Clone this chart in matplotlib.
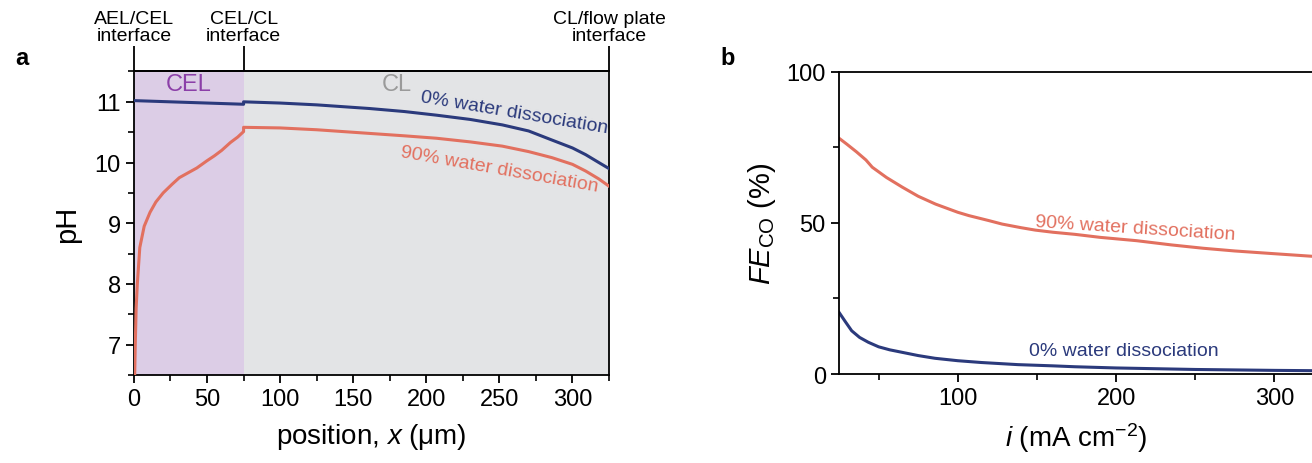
import matplotlib
matplotlib.use("Agg")
import matplotlib.pyplot as plt
from matplotlib.ticker import MultipleLocator

plt.rcParams.update({
    "font.family": "Liberation Sans",
    "mathtext.fontset": "custom",
    "mathtext.rm": "Liberation Sans",
    "mathtext.it": "Liberation Sans:italic",
    "font.size": 17,
    "axes.linewidth": 1.3,
    "xtick.direction": "out",
    "ytick.direction": "out",
    "xtick.major.size": 6,
    "ytick.major.size": 6,
    "xtick.minor.size": 4,
    "ytick.minor.size": 4,
    "xtick.major.width": 1.3,
    "ytick.major.width": 1.3,
    "xtick.minor.width": 1.2,
    "ytick.minor.width": 1.2,
    "xtick.labelsize": 17,
    "ytick.labelsize": 17,
})

BLUE = "#2b3a7c"
RED = "#e2705f"

# --- panel a: pH profile across CEL and CL (x in um) ---
pos_0 = [0, 75, 75, 100, 125, 161, 185, 207, 230, 252, 270, 286, 300, 309, 318, 325]
ph_0 = [11.02, 10.96, 11.0, 10.98, 10.95, 10.89, 10.84, 10.78, 10.71, 10.62,
        10.52, 10.37, 10.24, 10.13, 10.0, 9.90]

pos_90 = [0.5, 0.9, 1.5, 2.3, 4, 7, 11, 15, 20, 26, 31, 37, 43, 50, 55, 60, 66, 71, 75,
          75, 100, 125, 161, 185, 207, 230, 252, 270, 286, 300, 309, 318, 325]
ph_90 = [6.5, 7.0, 7.6, 8.0, 8.6, 8.95, 9.18, 9.35, 9.5, 9.64, 9.75, 9.83, 9.91, 10.03,
         10.11, 10.2, 10.33, 10.42, 10.51,
         10.58, 10.57, 10.54, 10.48, 10.44, 10.40, 10.34, 10.27, 10.18, 10.08, 9.97,
         9.86, 9.73, 9.61]

CEL_END = 75
CL_END = 325
interface_pos = [0, 75, 325]
interface_labels = ["AEL/CEL\ninterface", "CEL/CL\ninterface", "CL/flow plate\ninterface"]

# --- panel b: FE_CO vs current density ---
cur_90 = [25, 30, 36, 42, 46, 55, 65, 75, 86, 100, 107, 120, 128, 140, 149, 160, 174,
          190, 213, 235, 255, 275, 297, 325]
fe_90 = [78.0, 76.0, 73.5, 70.8, 68.4, 65.0, 61.8, 58.8, 56.2, 53.5, 52.4, 50.7, 49.6,
         48.4, 47.6, 46.9, 46.2, 45.2, 44.1, 42.7, 41.6, 40.7, 39.9, 38.9]

cur_0 = [25, 29, 33, 38, 43.5, 50, 57, 64.6, 75, 85.6, 100, 115, 138, 160, 174, 200,
         250, 300, 325]
fe_0 = [20.4, 17.3, 14.3, 12.1, 10.5, 9.0, 8.0, 7.2, 6.1, 5.2, 4.4, 3.8, 3.1, 2.7, 2.4,
        2.0, 1.5, 1.2, 1.1]

fig = plt.figure(figsize=(13.12, 4.64), dpi=100)
ax_a = fig.add_axes([0.1021, 0.1897, 0.3621, 0.6541])
ax_b = fig.add_axes([0.6395, 0.1918, 0.3620, 0.6515])

# ---- panel a ----
ax_a.axvspan(0, CEL_END, color="#dccde6", lw=0, zorder=0)
ax_a.axvspan(CEL_END, CL_END, color="#e3e4e6", lw=0, zorder=0)
ax_a.plot(pos_0, ph_0, color=BLUE, lw=2.2, zorder=3)
ax_a.plot(pos_90, ph_90, color=RED, lw=2.2, zorder=3)
ax_a.set_xlim(0, 325)
ax_a.set_ylim(6.5, 11.5)
ax_a.xaxis.set_major_locator(MultipleLocator(50))
ax_a.xaxis.set_minor_locator(MultipleLocator(25))
ax_a.yaxis.set_major_locator(MultipleLocator(1))
ax_a.yaxis.set_minor_locator(MultipleLocator(0.5))
ax_a.set_xlabel(r"position, $\mathit{x}$ ($\mathrm{\mu}$m)", fontsize=20, labelpad=8)
ax_a.set_ylabel("pH", fontsize=21, labelpad=10)

ax_a.text(37.5, 11.29, "CEL", color="#8b3fa8", fontsize=17, ha="center", va="center")
ax_a.text(180, 11.29, "CL", color="#9a9a9a", fontsize=17, ha="center", va="center")
ax_a.text(260, 10.83, "0% water dissociation", color=BLUE, fontsize=14,
          ha="center", va="center", rotation=-9.5, rotation_mode="anchor")
ax_a.text(250, 9.89, "90% water dissociation", color=RED, fontsize=14,
          ha="center", va="center", rotation=-10, rotation_mode="anchor")

top = ax_a.secondary_xaxis("top")
top.set_xticks(interface_pos)
top.set_xticklabels(interface_labels, fontsize=14, linespacing=0.95)
top.tick_params(axis="x", length=18, width=1.3, pad=2)
top.xaxis.set_minor_locator(plt.NullLocator())

# ---- panel b ----
ax_b.plot(cur_90, fe_90, color=RED, lw=2.2)
ax_b.plot(cur_0, fe_0, color=BLUE, lw=2.2)
ax_b.set_xlim(25, 325)
ax_b.set_ylim(0, 100)
ax_b.set_xticks([100, 200, 300])
ax_b.set_xticks([50, 150, 250], minor=True)
ax_b.set_yticks([0, 50, 100])
ax_b.set_yticks([25, 75], minor=True)
ax_b.spines["right"].set_visible(False)
ax_b.set_xlabel(r"$\mathit{i}$ (mA cm$^{-2}$)", fontsize=20, labelpad=8)
ax_b.set_ylabel(r"$\mathit{FE}_{\mathrm{CO}}$ (%)", fontsize=21, labelpad=6)
ax_b.text(212, 48.3, "90% water dissociation", color=RED, fontsize=14,
          ha="center", va="center", rotation=-3.7, rotation_mode="anchor")
ax_b.text(205, 7.9, "0% water dissociation", color=BLUE, fontsize=14,
          ha="center", va="center")

fig.text(0.0168, 0.873, "a", fontsize=17, fontweight="bold", ha="center", va="center")
fig.text(0.5545, 0.873, "b", fontsize=17, fontweight="bold", ha="center", va="center")

fig.savefig("out.png", dpi=100)
